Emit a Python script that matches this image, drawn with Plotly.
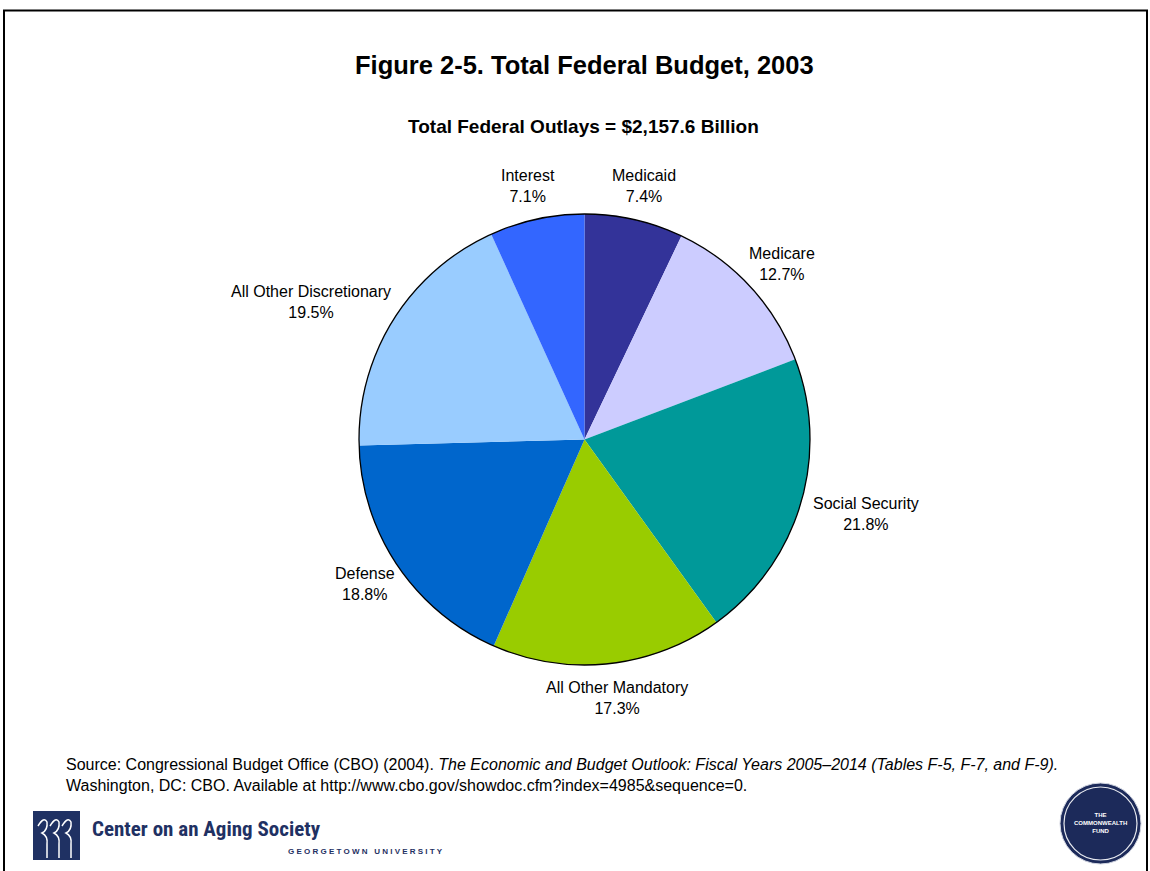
import math
import plotly.graph_objects as go

W, H = 1150, 871

# Budget shares (percent of total outlays), clockwise from 12 o'clock
categories = ["Medicaid", "Medicare", "Social Security", "All Other Mandatory",
              "Defense", "All Other Discretionary", "Interest"]
shares = [7.4, 12.7, 21.8, 17.3, 18.8, 19.5, 7.1]
colors = ["#333399", "#CCCCFF", "#009999", "#99CC00", "#0066CC", "#99CCFF", "#3366FF"]

title = "Figure 2-5. Total Federal Budget, 2003"
subtitle = "Total Federal Outlays = $2,157.6 Billion"
source_1 = ("Source: Congressional Budget Office (CBO) (2004). "
            "<i>The Economic and Budget Outlook: Fiscal Years 2005–2014 (Tables F-5, F-7, and F-9).</i>")
source_2 = "Washington, DC: CBO. Available at http://www.cbo.gov/showdoc.cfm?index=4985&sequence=0."

FONT = "Liberation Sans, Arial, sans-serif"
LABEL_SIZE = 16


def px(x):
    return x / W


def py(y):
    return 1 - y / H


# pie geometry in page pixels
cx, cy, r = 584.5, 439.5, 225.5

fig = go.Figure(go.Pie(
    labels=categories,
    values=shares,
    text=[f"{v:.1f}%" for v in shares],
    textinfo="none",
    marker=dict(colors=colors, line=dict(width=0)),
    sort=False,
    direction="clockwise",
    rotation=0,
    domain=dict(x=[px(cx - r), px(cx + r)], y=[py(cy + r), py(cy - r)]),
    showlegend=False,
    hoverinfo="label+text",
))

# Category labels placed just outside each slice's mid-angle,
# with the text box pushed outward by its own half-size.
annotations = []
total = sum(shares)
acc = 0.0
gap = 14
for name, v in zip(categories, shares):
    mid = (acc + v / 2) / total * 2 * math.pi
    acc += v
    ux, uy = math.sin(mid), -math.cos(mid)      # screen direction (y down)
    pct = f"{v:.1f}%"
    w = max(len(name), len(pct)) * LABEL_SIZE * 0.45
    h = 2 * LABEL_SIZE * 1.25
    lx = cx + (r + gap) * ux + w / 2 * ux
    ly = cy + (r + gap) * uy + h / 2 * uy
    annotations.append(dict(
        text=f"{name}<br>{pct}", x=px(lx), y=py(ly), xref="paper", yref="paper",
        showarrow=False, align="center", xanchor="center", yanchor="middle",
        font=dict(family=FONT, size=LABEL_SIZE, color="black")))

shapes = [
    # outer rim of the pie
    dict(type="circle", xref="paper", yref="paper",
         x0=px(cx - r), x1=px(cx + r), y0=py(cy + r), y1=py(cy - r),
         line=dict(color="black", width=1.3)),
    # frame around the page
    dict(type="path", xref="paper", yref="paper",
         path=f"M {px(4)} {py(875)} L {px(4)} {py(10.5)} L {px(1147)} {py(10.5)} L {px(1147)} {py(875)}",
         line=dict(color="black", width=2)),
    # Center on an Aging Society logo block
    dict(type="rect", xref="paper", yref="paper",
         x0=px(33), x1=px(80), y0=py(860), y1=py(811),
         fillcolor="#1F3163", line=dict(width=0)),
    # Commonwealth Fund seal
    dict(type="circle", xref="paper", yref="paper",
         x0=px(1060), x1=px(1141), y0=py(864), y1=py(783),
         fillcolor="#1C2A5A", line=dict(color="#D0D4E0", width=1)),
    dict(type="circle", xref="paper", yref="paper",
         x0=px(1064), x1=px(1137), y0=py(860), y1=py(787),
         fillcolor="rgba(0,0,0,0)", line=dict(color="#E8EAF0", width=1.2)),
]

# three stylised figures in the logo block
for x0 in [38, 50, 62]:
    shapes.append(dict(
        type="path", xref="paper", yref="paper",
        path=(f"M {px(x0)} {py(826)} Q {px(x0 + 6)} {py(816)} {px(x0 + 9)} {py(822)} "
              f"Q {px(x0 + 10)} {py(830)} {px(x0 + 4)} {py(833)} "
              f"Q {px(x0 + 10)} {py(836)} {px(x0 + 9)} {py(844)} L {px(x0 + 9)} {py(858)}"),
        line=dict(color="white", width=1.5)))

annotations += [
    dict(text=f"<b>{title}</b>", x=px(585), y=py(65), xref="paper", yref="paper",
         showarrow=False, font=dict(family=FONT, size=25.5, color="black"),
         xanchor="center", yanchor="middle"),
    dict(text=f"<b>{subtitle}</b>", x=px(583), y=py(127), xref="paper", yref="paper",
         showarrow=False, font=dict(family=FONT, size=19, color="black"),
         xanchor="center", yanchor="middle"),
    dict(text=source_1, x=px(64), y=py(764), xref="paper", yref="paper",
         showarrow=False, font=dict(family=FONT, size=16, color="black"),
         xanchor="left", yanchor="middle"),
    dict(text=source_2, x=px(64), y=py(785), xref="paper", yref="paper",
         showarrow=False, font=dict(family=FONT, size=16, color="black"),
         xanchor="left", yanchor="middle"),
    dict(text="<b>Center on an Aging Society</b>", x=px(90), y=py(829), xref="paper", yref="paper",
         showarrow=False, font=dict(family="Roboto Condensed, Liberation Sans Narrow, Arial Narrow, sans-serif",
                                     size=21, color="#1F3163"),
         xanchor="left", yanchor="middle"),
    dict(text="<b>G E O R G E T O W N   U N I V E R S I T Y</b>", x=px(445), y=py(851),
         xref="paper", yref="paper", showarrow=False,
         font=dict(family=FONT, size=8, color="#1F3163"),
         xanchor="right", yanchor="middle"),
    dict(text="<b>THE<br>COMMONWEALTH<br>FUND</b>", x=px(1100), y=py(823), xref="paper", yref="paper",
         showarrow=False, font=dict(family=FONT, size=6, color="white"),
         xanchor="center", yanchor="middle"),
]

fig.update_layout(
    width=W, height=H,
    margin=dict(l=0, r=0, t=0, b=0),
    paper_bgcolor="white",
    plot_bgcolor="white",
    shapes=shapes,
    annotations=annotations,
    font=dict(family=FONT),
)

fig.write_html("out.html")
